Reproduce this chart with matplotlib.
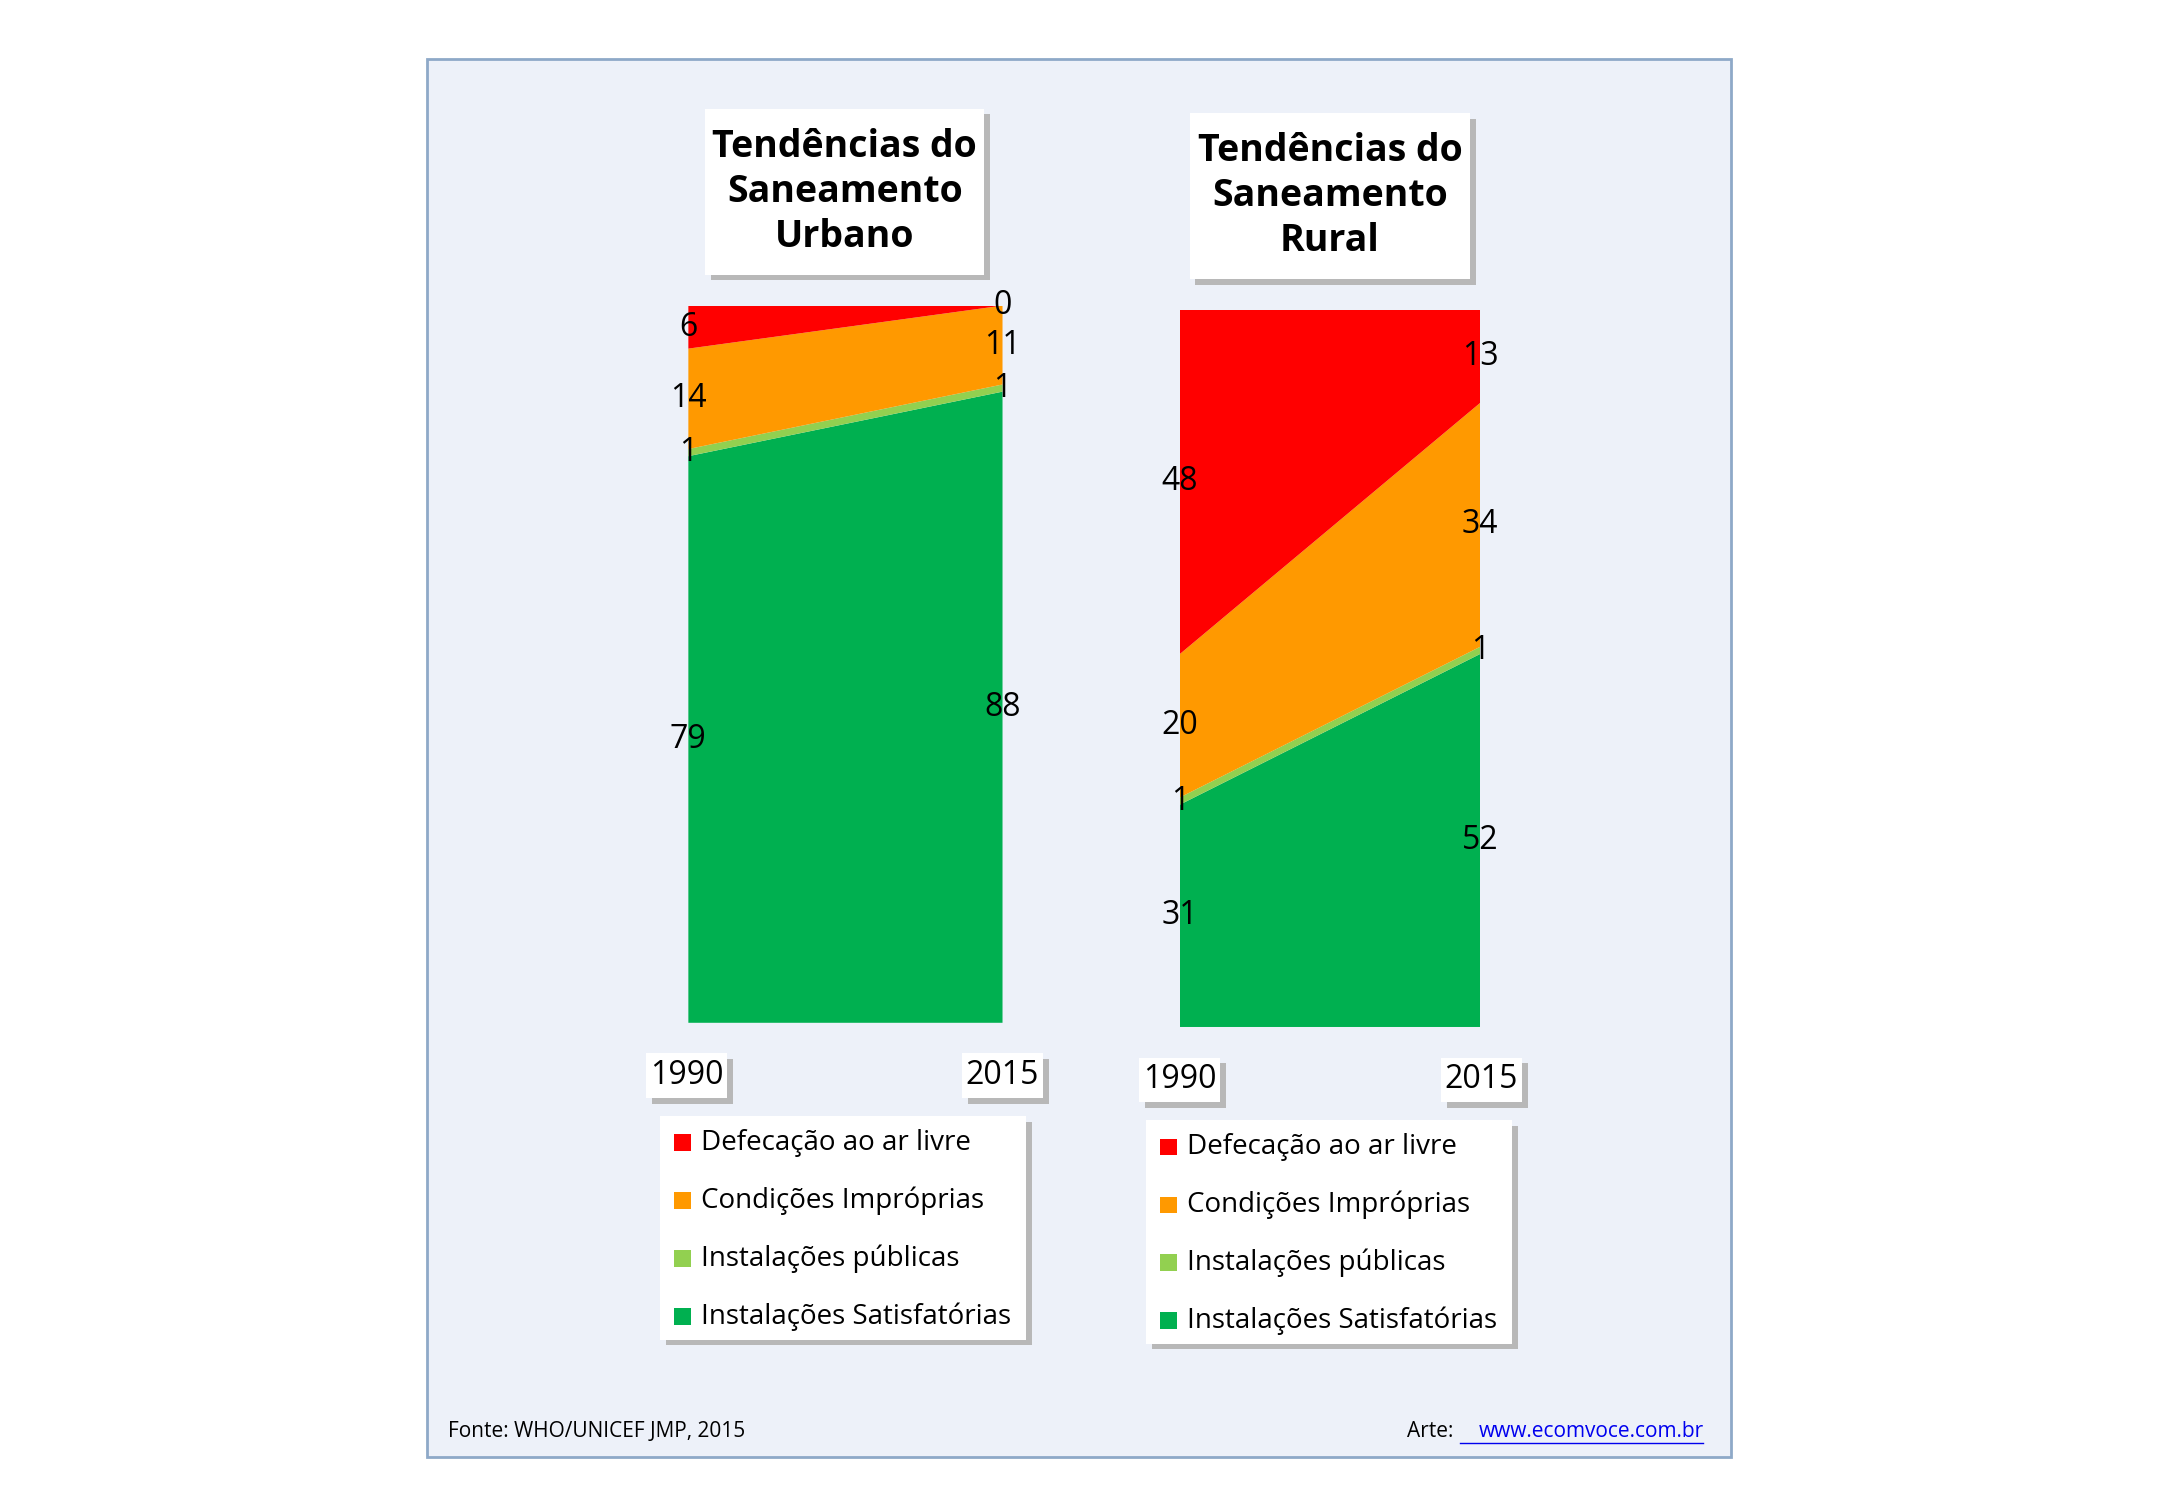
import matplotlib.pyplot as plt
from matplotlib.patches import Rectangle

plt.rcParams['font.family'] = ['Open Sans', 'DejaVu Sans']

years = ["1990", "2015"]
series = ["Instalações Satisfatórias", "Instalações públicas", "Condições Impróprias", "Defecação ao ar livre"]
colors = ["#00B050", "#92D050", "#FF9900", "#FF0000"]
urbano = [[79, 88], [1, 1], [14, 11], [6, 0]]
rural = [[31, 52], [1, 1], [20, 34], [48, 13]]

W, H = 1552.0, 1075.0
fig = plt.figure(figsize=(21.67, 15), dpi=100)

def fx(x): return x / W
def fy(y): return 1 - y / H

def box(x0, y0, x1, y1, shadow=True, fc="white"):
    if shadow:
        fig.patches.append(Rectangle((fx(x0 + 4), fy(y1 + 4)), fx(x1 - x0), (y1 - y0) / H,
                                     transform=fig.transFigure, fc="#b8b8b8", ec="none", zorder=1))
    fig.patches.append(Rectangle((fx(x0), fy(y1)), fx(x1 - x0), (y1 - y0) / H,
                                 transform=fig.transFigure, fc=fc, ec="none", zorder=2))

# outer panel
fig.patches.append(Rectangle((fx(306), fy(1044)), fx(934), 1002 / H, transform=fig.transFigure,
                             fc="#EDF1F9", ec="#8EA9C8", lw=2, zorder=0))

def panel(data, ax_rect, title, tbox, ybox, lbox):
    ax = fig.add_axes(ax_rect, zorder=5)
    ax.patch.set_alpha(0)
    ax.stackplot([0, 1], *data, colors=colors)
    ax.set_xlim(0, 1)
    ax.set_ylim(0, 100)
    ax.axis("off")
    for j in range(2):
        base = 0
        for k, vals in enumerate(data):
            v = vals[j]
            ax.text(j, base + v / 2, str(v), ha="center", va="center", fontsize=23, color="black",
                    clip_on=False)
            base += v
    x0, y0, x1, y1 = tbox
    box(x0, y0, x1, y1)
    fig.text(fx((x0 + x1) / 2), fy((y0 + y1) / 2), title, ha="center", va="center",
             fontsize=27, fontweight="bold", linespacing=1.25, zorder=3)
    for (bx0, by0, bx1, by1), yr in zip(ybox, years):
        box(bx0, by0, bx1, by1)
        fig.text(fx((bx0 + bx1) / 2), fy((by0 + by1) / 2), yr, ha="center", va="center",
                 fontsize=23, zorder=3)
    lx0, ly0, lx1, ly1 = lbox
    box(lx0, ly0, lx1, ly1)
    for i, (name, c) in enumerate(zip(series[::-1], colors[::-1])):
        yy = ly0 + 19 + i * 41.5
        fig.patches.append(Rectangle((fx(lx0 + 10), fy(yy + 6)), fx(12), 12 / H,
                                     transform=fig.transFigure, fc=c, ec="none", zorder=3))
        fig.text(fx(lx0 + 29), fy(yy), name, ha="left", va="center", fontsize=20, zorder=3)

panel(urbano, [fx(493), fy(733), fx(225), 514 / H], "Tendências do\nSaneamento\nUrbano",
      (505, 78, 705, 197), [(463, 755, 521, 787), (689, 755, 747, 787)], (473, 800, 735, 960))
panel(rural, [fx(845), fy(736), fx(215), 514 / H], "Tendências do\nSaneamento\nRural",
      (852, 81, 1053, 200), [(816, 758, 874, 790), (1032, 758, 1090, 790)], (821, 803, 1083, 963))

fig.text(fx(321), fy(1026), "Fonte: WHO/UNICEF JMP, 2015", ha="left", va="center", fontsize=15)
fig.text(fx(1045), fy(1026), "Arte: ", ha="right", va="center", fontsize=15)
fig.text(fx(1220), fy(1026), "www.ecomvoce.com.br", ha="right", va="center", fontsize=15,
         color="#0000EE")
fig.lines.append(plt.Line2D([fx(1046), fx(1220)], [fy(1034), fy(1034)], transform=fig.transFigure,
                            color="#0000EE", lw=1))

fig.savefig("out.png", dpi=100, facecolor="white")
